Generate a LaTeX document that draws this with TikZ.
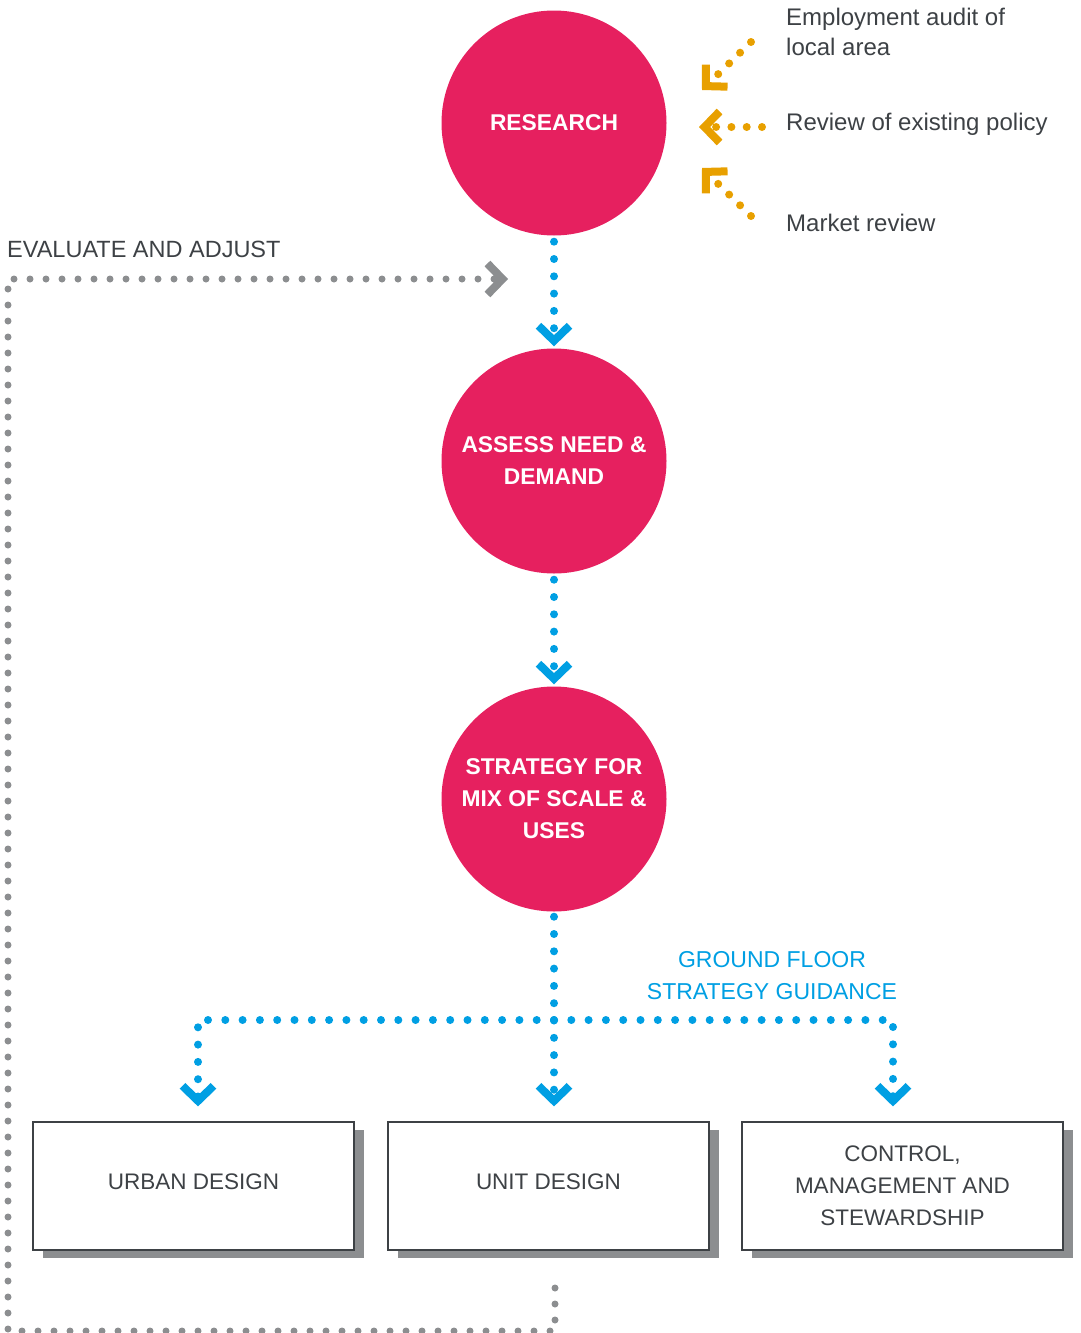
\documentclass[tikz,border=0pt]{standalone}
\usepackage{fontspec}
\setmainfont{Liberation Sans}
\usepackage{tikz}
\usetikzlibrary{arrows.meta,shadows}

\definecolor{stagePink}{HTML}{E6205F}
\definecolor{flowBlue}{HTML}{009FE3}
\definecolor{feedOrange}{HTML}{E8A000}
\definecolor{loopGrey}{HTML}{8C8E90}
\definecolor{textGrey}{HTML}{3D4145}

\begin{document}
\begin{tikzpicture}[x=1pt,y=1pt,node distance=338pt,
        >={Straight Barb[length=15pt,width=31pt,line width=8pt]},
        stage/.style={circle,fill=stagePink,text=white,minimum size=225pt,
          inner sep=0pt,align=center,font=\bfseries\fontsize{22.8}{32}\selectfont},
        outcome/.style={rectangle,draw=textGrey,line width=1.2pt,fill=white,
          minimum width=321pt,minimum height=128pt,align=center,text=textGrey,
          font=\fontsize{22.5}{32}\selectfont,
          drop shadow={shadow xshift=9.5pt,shadow yshift=-8pt,
            fill=loopGrey,opacity=1}},
        note/.style={inner sep=0pt,text=textGrey,align=left,
          font=\fontsize{24}{30}\selectfont},
        flow/.style={->,draw=flowBlue,line width=8pt,line cap=round,
          dash pattern=on 0pt off 17.3pt},
        feed/.style={->,draw=feedOrange,line width=8pt,line cap=round,
          dash pattern=on 0pt off 15.3pt},
        feedback/.style={->,draw=loopGrey,line width=7pt,line cap=round,
          dash pattern=on 0pt off 16pt}]
      \useasboundingbox (0,0) rectangle (1081,-1333);
      % main steps
      \node[stage] (research) at (554,-123) {RESEARCH};
      \node[stage] (assess) [below of=research] {ASSESS NEED \&\\DEMAND};
      \node[stage] (strategy) [below of=assess] {STRATEGY FOR\\MIX OF SCALE \&\\USES};
      \node[outcome,text depth=8pt,node distance=387pt] (unit) [below of=strategy,xshift=-5.5pt]
        {UNIT DESIGN};
      \node[outcome,text depth=8pt,node distance=355pt] (urban) [left of=unit] {URBAN DESIGN};
      \node[outcome,node distance=354pt] (control) [right of=unit]
        {CONTROL,\\MANAGEMENT AND\\STEWARDSHIP};
      % inputs to research
      \node[note,anchor=north west] (audit) at (786,-8) {Employment audit of\\local area};
      \node[note,anchor=base west] (policy) at (786,-130) {Review of existing policy};
      \node[note,anchor=base west] (market) at (786,-231) {Market review};
      \node[note,anchor=west,font=\fontsize{23.5}{30}\selectfont] (evaluate) at (7,-249)
        {EVALUATE AND ADJUST};
      \node[note,text=flowBlue,align=center,font=\fontsize{23}{32}\selectfont] (guidance)
        at (772,-976) {GROUND FLOOR\\STRATEGY GUIDANCE};
      \coordinate (audittail) at (751,-42);
      \coordinate (audittip) at (702,-90);
      \coordinate (policytail) at (762,-127);
      \coordinate (policytip) at (699,-127);
      \coordinate (markettail) at (751,-216);
      \coordinate (markettip) at (702,-168);
      \coordinate (split) at (554,-1020);
      \coordinate (loopstart) at (555,-1288);
      \coordinate (loopcorner) at (8,-1331);
      \coordinate (looptip) at (508,-279);
      \draw[feed] (audittail) -- (audittip);
      \draw[feed] (policytail) -- (policytip);
      \draw[feed] (markettail) -- (markettip);
      \path (research) edge[flow,shorten <=6pt,shorten >=2pt] (assess)
      (assess) edge[flow,shorten <=6pt,shorten >=2pt] (strategy);
      % branches to the design boxes
      \draw[flow,shorten <=5pt,shorten >=15pt] (strategy.south) -- (strategy.south |- unit.north);
      \draw[flow,shorten >=15pt] (split) -| ([xshift=4.5pt]urban.north);
      \draw[flow,shorten >=15pt] (split) -| ([xshift=-9.5pt]control.north);
      % feedback loop
      \draw[feedback] (loopstart) |- (loopcorner) |- (looptip);
    \end{tikzpicture}
\end{document}
